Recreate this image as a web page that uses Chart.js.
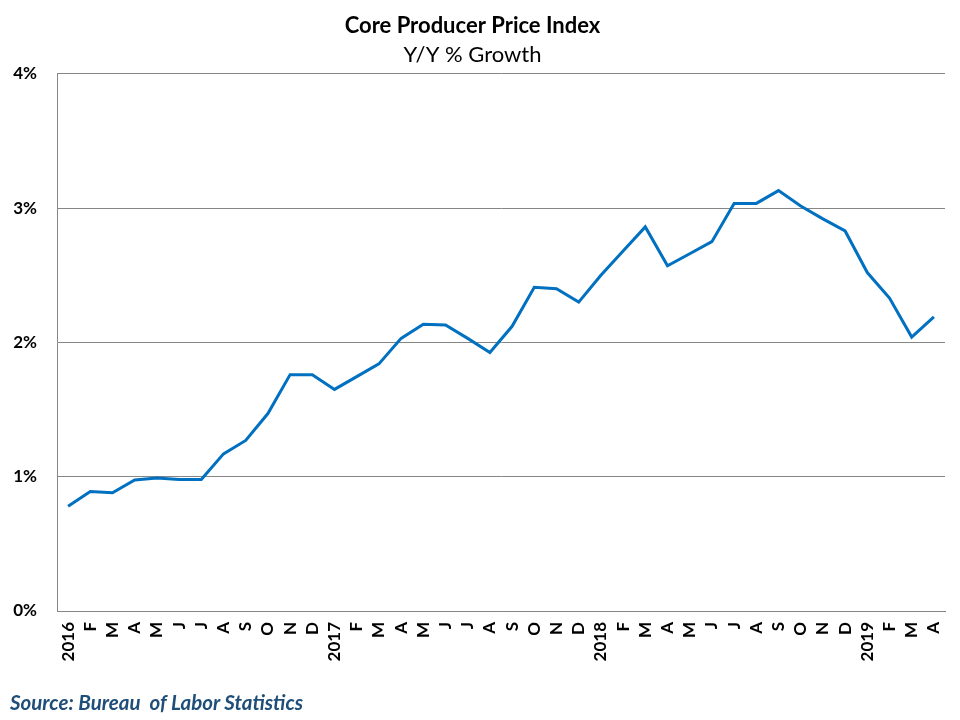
<!DOCTYPE html>
<html>
<head>
<meta charset="utf-8">
<script src="https://cdn.jsdelivr.net/npm/chart.js@4.4.1/dist/chart.umd.min.js"></script>
<style>
    body { margin: 0; background: #fff; }
    #wrap { position: relative; width: 960px; height: 720px; }
    #source {
        position: absolute; left: 10px; top: 690px;
        font: italic bold 20.5px Lato, "Open Sans", sans-serif;
        color: #1f4e79;
        white-space: pre;
    }
</style>
</head>
<body>
<div id="wrap">
    <canvas id="chart" width="960" height="720"></canvas>
    <div id="source">Source: Bureau  of Labor Statistics</div>
</div>
<script>
// данные графика
const months = [
    '2016', 'F', 'M', 'A', 'M', 'J', 'J', 'A', 'S', 'O', 'N', 'D',
    '2017', 'F', 'M', 'A', 'M', 'J', 'J', 'A', 'S', 'O', 'N', 'D',
    '2018', 'F', 'M', 'A', 'M', 'J', 'J', 'A', 'S', 'O', 'N', 'D',
    '2019', 'F', 'M', 'A'
];

const growth = [
    0.78, 0.89, 0.88, 0.975, 0.99, 0.98, 0.98, 1.17, 1.27, 1.47, 1.76, 1.76,
    1.65, 1.745, 1.84, 2.03, 2.135, 2.13, 2.03, 1.925, 2.12, 2.41, 2.40, 2.30,
    2.50, 2.68, 2.86, 2.57, 2.66, 2.75, 3.035, 3.035, 3.13, 3.015, 2.92, 2.83,
    2.52, 2.33, 2.04, 2.19
];

const yTicks = [0, 1, 2, 3, 4];

const gridColor = '#868686';
const fontFamily = 'Lato, "Open Sans", sans-serif';

function createChartConfig(labels, values) {
    return {
        type: 'line',
        data: {
            labels: labels,
            datasets: [{
                label: 'Core PPI Y/Y',
                data: values,
                borderColor: '#0070c0',
                borderWidth: 3,
                pointRadius: 0,
                tension: 0,
                fill: false
            }]
        },
        options: {
            responsive: false,
            animation: false,
            layout: { padding: { top: 0, left: 0, right: 15, bottom: 0 } },
            plugins: {
                legend: { display: false },
                tooltip: { enabled: false },
                title: {
                    display: true,
                    text: 'Core Producer Price Index',
                    color: '#000',
                    font: { family: fontFamily, size: 22, weight: 'bold' },
                    padding: { top: 13, bottom: 1 }
                },
                subtitle: {
                    display: true,
                    text: 'Y/Y % Growth',
                    color: '#000',
                    font: { family: fontFamily, size: 22, weight: 'normal' },
                    padding: { top: 1, bottom: 6 }
                }
            },
            scales: {
                x: {
                    offset: true,
                    grid: { display: false, drawTicks: false },
                    border: { display: true, color: gridColor, width: 1 },
                    afterFit: (scale) => {
                        scale.height = 109;
                        scale.paddingLeft = 0;
                        scale.paddingRight = 0;
                    },
                    ticks: {
                        autoSkip: false,
                        minRotation: 90,
                        maxRotation: 90,
                        padding: 11,
                        color: '#000',
                        font: { family: fontFamily, size: 17, weight: 'bold' }
                    }
                },
                y: {
                    min: 0,
                    max: 4,
                    afterFit: (scale) => { scale.width = 57; },
                    afterBuildTicks: (scale) => {
                        scale.ticks = yTicks.map((v) => ({ value: v }));
                    },
                    grid: { color: gridColor, lineWidth: 1, drawTicks: false },
                    border: { display: true, color: gridColor, width: 1 },
                    ticks: {
                        padding: 20,
                        color: '#000',
                        font: { family: fontFamily, size: 17, weight: 'bold' },
                        callback: (v) => v + '%'
                    }
                }
            }
        }
    };
}

const ctx = document.getElementById('chart');
const myChart = new Chart(ctx, createChartConfig(months, growth));
</script>
</body>
</html>
